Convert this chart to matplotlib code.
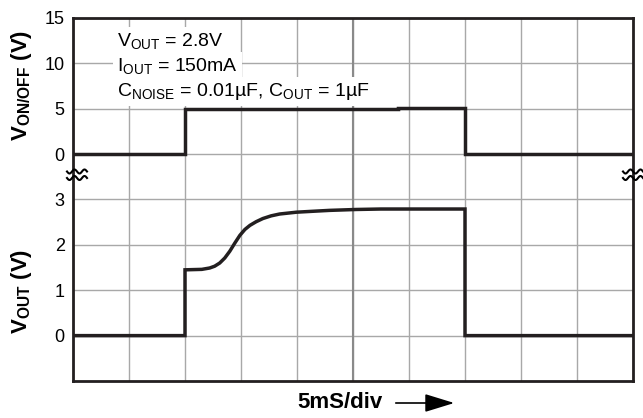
import numpy as np
import matplotlib
matplotlib.use('Agg')
import matplotlib.pyplot as plt
from matplotlib.lines import Line2D

plt.rcParams['font.family'] = ['Liberation Sans', 'DejaVu Sans']
plt.rcParams['mathtext.fontset'] = 'custom'
plt.rcParams['mathtext.rm'] = 'Liberation Sans'
plt.rcParams['mathtext.it'] = 'Liberation Sans:italic'
plt.rcParams['mathtext.bf'] = 'Liberation Sans:bold'

# time axis in divisions (5 ms/div)
t_onoff = [0, 2, 2, 5.8, 5.8, 7, 7, 10]
v_onoff = [0, 0, 5, 5, 5.12, 5.12, 0, 0]

t_out = [0, 2, 2, 2.3, 2.44, 2.53, 2.62, 2.71, 2.80, 2.89, 2.98, 3.07, 3.16,
         3.27, 3.39, 3.54, 3.69, 3.99, 4.28, 4.58, 5.06, 5.5, 7, 7, 10]
v_out = [0, 0, 1.45, 1.46, 1.49, 1.53, 1.60, 1.71, 1.86, 2.04, 2.21, 2.34, 2.43,
         2.51, 2.58, 2.64, 2.68, 2.72, 2.74, 2.76, 2.78, 2.79, 2.79, 0, 0]

top_ticks = [0, 5, 10, 15]
bot_ticks = [0, 1, 2, 3]
x_ticks = list(range(0, 11))

notes = [r'V$_{\mathrm{OUT}}$ = 2.8V',
         r'I$_{\mathrm{OUT}}$ = 150mA',
         r'C$_{\mathrm{NOISE}}$ = 0.01µF, C$_{\mathrm{OUT}}$ = 1µF']

W, H = 643, 418
INK = '#231f20'
GRID = '#a8a8a8'

fig = plt.figure(figsize=(W / 100, H / 100), dpi=100)
brk = 176.8
ax_top = fig.add_axes([73 / W, 1 - brk / H, 560 / W, (brk - 18) / H])
ax_bot = fig.add_axes([73 / W, 1 - 381 / H, 560 / W, (381 - brk) / H])

for ax, ticks in ((ax_top, top_ticks), (ax_bot, bot_ticks)):
    ax.set_xlim(0, 10)
    ax.set_xticks(x_ticks)
    ax.set_xticklabels([])
    ax.set_yticks(ticks)
    ax.tick_params(length=0, labelsize=13, pad=6)
    ax.set_axisbelow(True)
    ax.grid(True, color=GRID, lw=1.0)
    for s in ax.spines.values():
        s.set_linewidth(2.0)
        s.set_color(INK)
    # darker centre line
    ax.axvline(5, color='#8a8a8a', lw=1.5, zorder=0.6)

ax_top.set_ylim(-2.5, 15)
ax_bot.set_ylim(-1, 3.5)
ax_top.spines['bottom'].set_visible(False)
ax_bot.spines['top'].set_visible(False)

ax_top.plot(t_onoff, v_onoff, color=INK, lw=2.5, solid_joinstyle='miter', zorder=3)
ax_bot.plot(t_out, v_out, color=INK, lw=2.5, solid_joinstyle='miter', zorder=3)

# condition notes with white background over the grid
note_y = [11.9, 9.15, 6.4]
for txt, y in zip(notes, note_y):
    ax_top.text(0.79, y, txt, fontsize=14, va='baseline', ha='left', zorder=4,
                bbox=dict(boxstyle='square,pad=0.22', fc='white', ec='none'))

fig.text(21 / W, 1 - 85 / H, r'$\mathbf{V_{ON/OFF}}$ (V)', rotation=90,
         fontsize=16, fontweight='bold', ha='center', va='center')
fig.text(21 / W, 1 - 291 / H, r'$\mathbf{V_{OUT}}$ (V)', rotation=90,
         fontsize=16, fontweight='bold', ha='center', va='center')

fig.text(340 / W, 1 - 403 / H, '5mS/div', fontsize=16, fontweight='bold',
         ha='center', va='center')
fig.add_artist(plt.Annotation('', xy=(457 / W, 1 - 403 / H), xytext=(393 / W, 1 - 403 / H),
                              xycoords='figure fraction', textcoords='figure fraction',
                              arrowprops=dict(arrowstyle='-|>,head_length=1.3,head_width=0.4',
                                              color='black', lw=1.2, mutation_scale=14)))

# axis break marks
wx = np.linspace(0, 20, 60)
for x0 in (67, 623):
    for y0 in (171.5, 178):
        wy = y0 + 2.0 * np.sin(wx / 20 * 4 * np.pi)
        fig.add_artist(Line2D((x0 + wx) / W, 1 - wy / H, color='black', lw=1.5,
                              transform=fig.transFigure))

fig.savefig('out.png', dpi=100)
